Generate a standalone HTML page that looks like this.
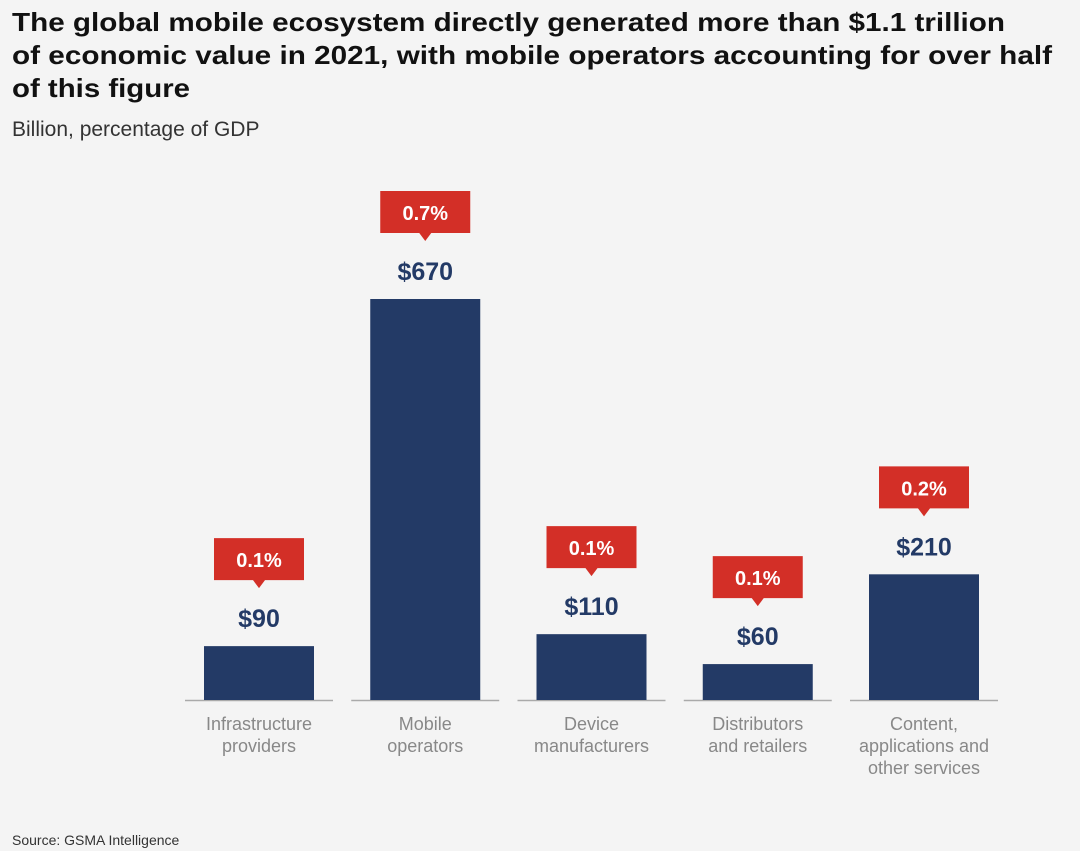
<!DOCTYPE html>
<html><head><meta charset="utf-8"><style>
body{margin:0;background:#f4f4f4;font-family:"Liberation Sans",sans-serif;}
#wrap{position:relative;width:1080px;height:851px;overflow:hidden;background:#f4f4f4}
.sub{position:absolute;left:12px;top:118px;font-size:21px;color:#333}
.src{position:absolute;left:12px;top:832px;font-size:14px;color:#333}
</style></head><body>
<div id="wrap">
<svg width="1080" height="110" style="position:absolute;left:0;top:0">
<text x="12" y="31" font-size="26" font-weight="bold" fill="#111" textLength="993" lengthAdjust="spacingAndGlyphs">The global mobile ecosystem directly generated more than $1.1 trillion</text>
<text x="12" y="64" font-size="26" font-weight="bold" fill="#111" textLength="1040" lengthAdjust="spacingAndGlyphs">of economic value in 2021, with mobile operators accounting for over half</text>
<text x="12" y="97" font-size="26" font-weight="bold" fill="#111" textLength="178" lengthAdjust="spacingAndGlyphs">of this figure</text>
</svg>
<div class="sub">Billion, percentage of GDP</div>
<svg id="chart" width="1080" height="851" style="position:absolute;left:0;top:0"></svg>
<div class="src">Source: GSMA Intelligence</div>
</div>
<script>
const categories=[["Infrastructure","providers"],["Mobile","operators"],["Device","manufacturers"],["Distributors","and retailers"],["Content,","applications and","other services"]];
const values=[90,670,110,60,210];
const valueLabels=["$90","$670","$110","$60","$210"];
const pctLabels=["0.1%","0.7%","0.1%","0.1%","0.2%"];
const svg=document.getElementById('chart');
const NS="http://www.w3.org/2000/svg";
const baseY=700,scale=401/670,x0=204,step=166.25,bw=110;
const xPos=i=>x0+i*step;
const yPos=v=>baseY-v*scale;
function mk(tag,attrs,parent){const e=document.createElementNS(NS,tag);for(const k in attrs)e.setAttribute(k,attrs[k]);(parent||svg).appendChild(e);return e;}
values.forEach((v,i)=>{
 const x=xPos(i),top=yPos(v),cx=x+bw/2;
 const g=mk('g',{});
 
 
 const ax=mk('line',{x1:x-19,x2:x+129,y1:baseY+0.5,y2:baseY+0.5,stroke:'#aaa','stroke-width':1.5},g);
 
 
 const r=mk('rect',{x:x,y:top,width:bw,height:baseY-top,fill:'#233a66'},g);
 
 
 const t=mk('text',{x:cx,y:top-19,'text-anchor':'middle','font-size':25,'font-weight':'bold',fill:'#233a66'},g);
 t.textContent=valueLabels[i];
 
 
 const bt=top-108;
 const b=mk('path',{d:`M${cx-45},${bt}h90v42h-39l-6,8l-6,-8h-39z`,fill:'#d32f27'},g);
 
 
 const p=mk('text',{x:cx,y:bt+29,'text-anchor':'middle','font-size':20,'font-weight':'bold',fill:'#fff'},g);
 p.textContent=pctLabels[i];
 
 
 categories[i].forEach((line,j)=>{
  const c=mk('text',{x:cx,y:730+j*22,'text-anchor':'middle','font-size':18,fill:'#888'},g);
  c.textContent=line;
  
  
 });
});
</script>
</body></html>
